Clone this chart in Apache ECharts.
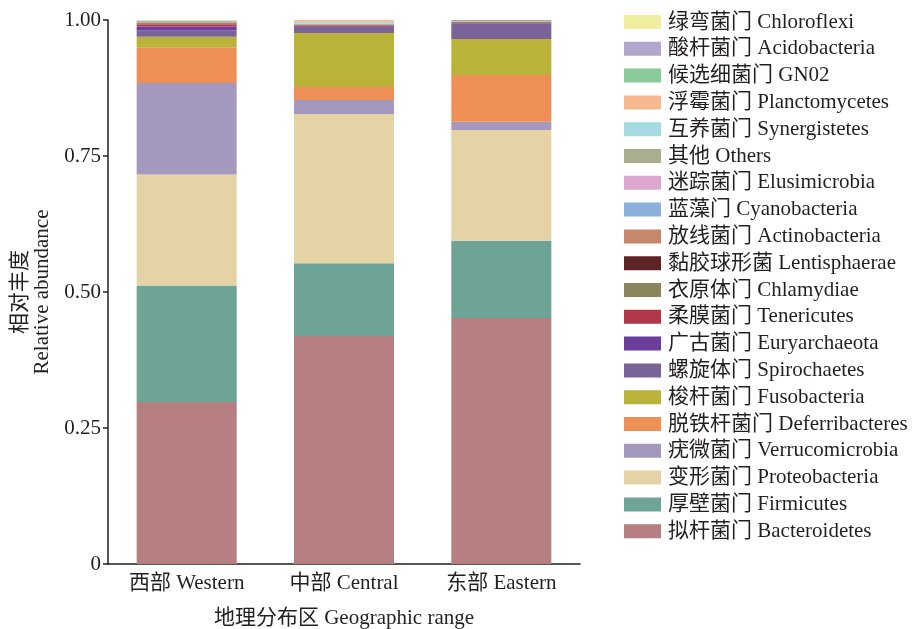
<!DOCTYPE html>
<html>
<head>
<meta charset="utf-8">
<title>相对丰度 Relative abundance</title>
<script src="https://cdn.jsdelivr.net/npm/echarts@6/dist/echarts.min.js"></script>
<style>
  html, body { margin: 0; padding: 0; background: #fff; }
  #chart { width: 912px; height: 629px; }
</style>
</head>
<body>
<div id="chart"></div>
<script>
// Regions on the x axis
const regions = ['西部 Western', '中部 Central', '东部 Eastern'];

// Relative abundance per phylum: [Western, Central, Eastern]
const bacteroidetes   = [0.298, 0.419, 0.452];
const firmicutes      = [0.214, 0.134, 0.142];
const proteobacteria  = [0.204, 0.274, 0.204];
const verrucomicrobia = [0.168, 0.026, 0.015];
const deferribacteres = [0.065, 0.024, 0.086];
const fusobacteria    = [0.020, 0.099, 0.066];
const spirochaetes    = [0.012, 0.011, 0.029];
const euryarchaeota   = [0.007, 0.0015, 0.0005];
const tenericutes     = [0.004, 0.0015, 0.001];
const chlamydiae      = [0.001, 0.0005, 0.0005];
const lentisphaerae   = [0.001, 0.0005, 0.0003];
const actinobacteria  = [0.002, 0.001, 0.0005];
const cyanobacteria   = [0.0005, 0.0003, 0.0002];
const elusimicrobia   = [0.0005, 0.0003, 0.0002];
const others          = [0.0017, 0.0004, 0.003];
const synergistetes   = [0.0003, 0.004, 0.0002];
const planctomycetes  = [0.0003, 0.003, 0.0002];
const gn02            = [0.0002, 0.0002, 0.0001];
const acidobacteria   = [0.0002, 0.0002, 0.0001];
const chloroflexi     = [0.0002, 0.0001, 0.0001];

// Y axis tick values
const yTicks = [0, 0.25, 0.5, 0.75, 1];

// Stack order, bottom to top
const phyla = [
  { name: '拟杆菌门 Bacteroidetes',    data: bacteroidetes,   color: '#B57E80' },
  { name: '厚壁菌门 Firmicutes',       data: firmicutes,      color: '#6DA495' },
  { name: '变形菌门 Proteobacteria',   data: proteobacteria,  color: '#E5D3A6' },
  { name: '疣微菌门 Verrucomicrobia',  data: verrucomicrobia, color: '#A598BF' },
  { name: '脱铁杆菌门 Deferribacteres', data: deferribacteres, color: '#EE9055' },
  { name: '梭杆菌门 Fusobacteria',     data: fusobacteria,    color: '#BAB33A' },
  { name: '螺旋体门 Spirochaetes',     data: spirochaetes,    color: '#7A6399' },
  { name: '广古菌门 Euryarchaeota',    data: euryarchaeota,   color: '#6A3E9A' },
  { name: '柔膜菌门 Tenericutes',      data: tenericutes,     color: '#B03848' },
  { name: '衣原体门 Chlamydiae',       data: chlamydiae,      color: '#8C845C' },
  { name: '黏胶球形菌 Lentisphaerae',  data: lentisphaerae,   color: '#5C2424' },
  { name: '放线菌门 Actinobacteria',   data: actinobacteria,  color: '#C7876A' },
  { name: '蓝藻门 Cyanobacteria',      data: cyanobacteria,   color: '#8BB0DB' },
  { name: '迷踪菌门 Elusimicrobia',    data: elusimicrobia,   color: '#DCA8CE' },
  { name: '其他 Others',               data: others,          color: '#A8AE8E' },
  { name: '互养菌门 Synergistetes',    data: synergistetes,   color: '#A5DAE0' },
  { name: '浮霉菌门 Planctomycetes',   data: planctomycetes,  color: '#F5B88F' },
  { name: '候选细菌门 GN02',           data: gn02,            color: '#8ACB9A' },
  { name: '酸杆菌门 Acidobacteria',    data: acidobacteria,   color: '#B3A6CC' },
  { name: '绿弯菌门 Chloroflexi',      data: chloroflexi,     color: '#F0EFA0' }
];

const FONT = '"Liberation Serif", "Noto Sans CJK SC", serif';
const INK = '#231f20';
const FS = 21;

const chart = echarts.init(document.getElementById('chart'), null, { renderer: 'canvas' });

chart.setOption({
  animation: false,
  textStyle: { fontFamily: FONT, color: INK },
  grid: {
    left: 108, right: 332, top: 20, bottom: 65,
    containLabel: false,
    outerBoundsMode: 'none'
  },
  legend: {
    orient: 'vertical',
    left: 619,
    top: 6,
    icon: 'rect',
    itemWidth: 37,
    itemHeight: 14,
    itemGap: 4.8,
    data: phyla.map(p => p.name).reverse(),
    textStyle: { fontFamily: FONT, fontSize: FS, color: INK, lineHeight: 22, padding: [0, 0, 0, 2] }
  },
  xAxis: {
    type: 'category',
    data: regions,
    name: '地理分布区 Geographic range',
    nameLocation: 'middle',
    nameGap: 44,
    nameTextStyle: { fontFamily: FONT, fontSize: FS, color: INK },
    axisLine: { lineStyle: { color: INK, width: 1.5 } },
    axisTick: { show: false },
    axisLabel: { fontFamily: FONT, fontSize: FS, color: INK, margin: 9 }
  },
  yAxis: {
    type: 'value',
    min: yTicks[0],
    max: yTicks[yTicks.length - 1],
    interval: 0.25,
    name: '相对丰度\nRelative abundance',
    nameLocation: 'middle',
    nameRotate: 90,
    nameGap: 55,
    nameTextStyle: { fontFamily: FONT, fontSize: FS, color: INK, lineHeight: 22 },
    axisLine: { show: true, lineStyle: { color: INK, width: 1.5 } },
    axisTick: { show: true, length: 5, lineStyle: { color: INK, width: 1.5 } },
    splitLine: { show: false },
    axisLabel: {
      fontFamily: FONT, fontSize: FS, color: INK, margin: 7,
      formatter: v => (v === 0 ? '0' : v.toFixed(2))
    }
  },
  series: phyla.map(p => ({
    name: p.name,
    type: 'bar',
    stack: 'abundance',
    barWidth: 100,
    data: p.data,
    itemStyle: { color: p.color },
    emphasis: { disabled: true }
  }))
});
</script>
</body>
</html>
